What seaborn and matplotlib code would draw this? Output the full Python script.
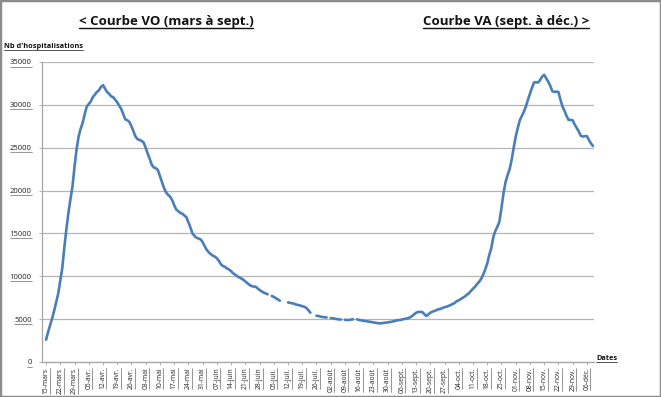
import matplotlib
matplotlib.use('Agg')
import matplotlib.pyplot as plt
import seaborn as sns
import numpy as np
import pandas as pd
from matplotlib.lines import Line2D
from matplotlib.patches import Rectangle

# Nb d'hospitalisations par jour, du 15 mars au 09 déc. (nan = jour manquant, trait en pointillé)
nan = np.nan
hosp = [
    2600, 3500, 4300, 5100, 6000, 7000, 8000,
    9500, 11000, 13400, 15500, 17400, 19000, 20500,
    22800, 24800, 26300, 27200, 27900, 28900, 29800,
    30100, 30400, 30900, 31200, 31500, 31700, 32100,
    32300, 31900, 31500, 31300, 31000, 30900, 30600,
    30300, 29900, 29500, 28900, 28300, 28200, 28000,
    27500, 26900, 26300, 26000, 25900, 25800, 25600,
    25000, 24300, 23700, 23000, 22700, 22600, 22400,
    21700, 21000, 20300, 19800, 19500, 19300, 18900,
    18300, 17800, 17600, 17400, 17300, 17100, 16900,
    16300, 15700, 15000, 14700, 14500, 14400, 14300,
    14000, 13500, 13100, 12800, 12600, 12400, 12300,
    12100, 11800, 11400, 11200, 11100, 10900, 10800,
    10600, 10350, 10200, 10000, 9880, 9750, 9600,
    9400, 9200, 9000, 8870, 8800, 8790, 8600,
    8400, 8250, 8100, 8000, 7900, nan, 7700,
    7600, 7450, 7300, 7150, nan, nan, nan,
    6950, 6900, 6850, 6800, 6700, 6650, 6600,
    6500, 6450, 6300, 6050, 5750, nan, nan,
    5400, 5370, 5300, 5250, 5220, 5200, nan,
    5120, 5100, 5050, 5000, 4980, 4950, nan,
    4920, 4900, 4900, 4950, 4980, nan, 4970,
    4900, 4850, 4820, 4780, 4740, 4700, 4670,
    4620, 4580, 4540, 4510, 4520, 4560, 4590,
    4620, 4660, 4700, 4760, 4820, 4870, 4900,
    4950, 5010, 5060, 5100, 5210, 5350, 5550,
    5750, 5830, 5850, 5830, 5600, 5370, 5550,
    5750, 5870, 5950, 6050, 6150, 6200, 6300,
    6400, 6450, 6550, 6650, 6770, 6900, 7100,
    7200, 7350, 7500, 7650, 7850, 8020, 8300,
    8550, 8790, 9100, 9350, 9700, 10200, 10800,
    11500, 12500, 13300, 14600, 15300, 15800, 16400,
    18000, 19700, 21000, 21800, 22500, 23600, 25000,
    26300, 27300, 28200, 28700, 29200, 29800, 30600,
    31300, 32000, 32600, 32650, 32600, 32900, 33300,
    33500, 33100, 32700, 32200, 31600, 31500, 31550,
    31500, 30600, 29800, 29300, 28700, 28240, 28250,
    28200, 27700, 27300, 26900, 26400, 26300, 26350,
    26350, 25900, 25500, 25200,
]

dates_labels = [
    '15-mars', '22-mars', '29-mars', '05-avr.', '12-avr.', '19-avr.', '26-avr.',
    '03-mai', '10-mai', '17-mai', '24-mai', '31-mai', '07-juin', '14-juin',
    '21-juin', '28-juin', '05-juil.', '12-juil.', '19-juil.', '26-juil.',
    '02-août', '09-août', '16-août', '23-août', '30-août', '06-sept.',
    '13-sept.', '20-sept.', '27-sept.', '04-oct.', '11-oct.', '18-oct.',
    '25-oct.', '01-nov.', '08-nov.', '15-nov.', '22-nov.', '29-nov.', '06-déc.',
]
y_ticks = [0, 5000, 10000, 15000, 20000, 25000, 30000, 35000]

sns.set_theme(style='white')
plt.rcParams['font.family'] = ['Open Sans', 'DejaVu Sans']

df = pd.DataFrame({'jour': np.arange(len(hosp)), 'hosp': hosp})
df['segment'] = df['hosp'].isna().cumsum()
df = df.dropna()

fig = plt.figure(figsize=(6.61, 3.97), dpi=100)
ax = fig.add_axes([42 / 661, 1 - 362 / 397, (594 - 42) / 661, 300 / 397])

for _, seg in df.groupby('segment'):
    sns.lineplot(data=seg, x='jour', y='hosp', ax=ax, color='#4a7ebb',
                 linewidth=1.9, estimator=None, solid_capstyle='round')

ax.set_xlim(-2, 269.5)
ax.set_ylim(0, 35000)
ax.set_yticks(y_ticks)
ax.set_yticklabels([str(v) for v in y_ticks], fontsize=5.5, color='#222222')
ax.set_xticks(np.arange(len(dates_labels)) * 7)
ax.set_xticklabels(dates_labels, rotation=90, fontsize=4.9, color='#222222', va='top')
ax.set_xlabel('')
ax.set_ylabel('')

ax.grid(axis='y', color='#b5b5b5', linewidth=0.9)
ax.set_axisbelow(True)
for s in ['top', 'right']:
    ax.spines[s].set_visible(False)
for s in ['left', 'bottom']:
    ax.spines[s].set_color('#a6a6a6')
    ax.spines[s].set_linewidth(0.9)
ax.tick_params(axis='both', which='both', direction='out', length=2.5, width=0.6,
               color='#a6a6a6', pad=1.5, left=True, bottom=True)
ax.tick_params(axis='y', pad=5)

t1 = fig.text(166 / 661, 1 - 22 / 397, '< Courbe VO (mars à sept.)',
              fontsize=9.5, fontweight='bold', ha='center', va='center', color='#111111')
t2 = fig.text(506 / 661, 1 - 22 / 397, 'Courbe VA (sept. à déc.) >',
              fontsize=9.5, fontweight='bold', ha='center', va='center', color='#111111')
t3 = fig.text(4 / 661, 1 - 47 / 397, "Nb d'hospitalisations",
              fontsize=5.3, fontweight='bold', ha='left', va='center', color='#111111')
t4 = fig.text(596 / 661, 1 - 359 / 397, 'Dates',
              fontsize=5.3, fontweight='bold', ha='left', va='center', color='#111111')

# soulignement des textes (comme dans Excel)
fig.canvas.draw()
inv = fig.transFigure.inverted()
for t, lw in [(t1, 1.0), (t2, 1.0), (t3, 0.5), (t4, 0.5)]:
    bb = t.get_window_extent().transformed(inv)
    fig.add_artist(Line2D([bb.x0, bb.x1], [bb.y0 + 0.002] * 2, color='#111111',
                          lw=lw, transform=fig.transFigure))
for lab in ax.get_xticklabels():
    bb = lab.get_window_extent().transformed(inv)
    fig.add_artist(Line2D([bb.x1, bb.x1], [bb.y0, bb.y1], color='#444444',
                          lw=0.4, transform=fig.transFigure))
for lab in ax.get_yticklabels():
    bb = lab.get_window_extent().transformed(inv)
    fig.add_artist(Line2D([bb.x0, bb.x1], [bb.y0, bb.y0], color='#444444',
                          lw=0.4, transform=fig.transFigure))

fig.add_artist(Rectangle((0, 0), 1, 1, transform=fig.transFigure, fill=False,
                         edgecolor='#8c8c8c', linewidth=2.5))

fig.savefig('out.png', dpi=100)
plt.close()
